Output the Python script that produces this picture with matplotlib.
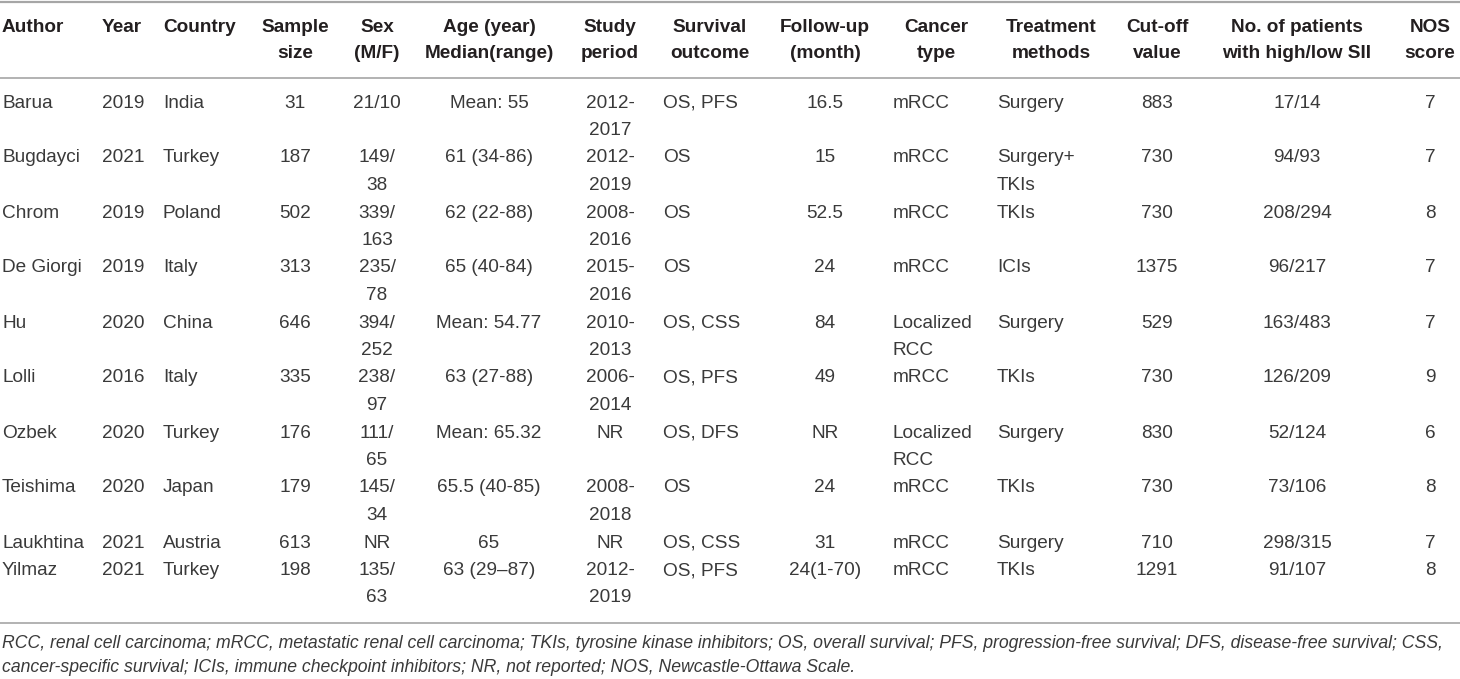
import matplotlib
matplotlib.use("Agg")
import matplotlib.pyplot as plt

# ---------------- data ----------------
headers = ["Author", "Year", "Country", "Sample\nsize", "Sex\n(M/F)",
           "Age (year)\nMedian(range)", "Study\nperiod", "Survival\noutcome",
           "Follow-up\n(month)", "Cancer\ntype", "Treatment\nmethods",
           "Cut-off\nvalue", "No. of patients\nwith high/low SII", "NOS\nscore"]

authors = ["Barua", "Bugdayci", "Chrom", "De Giorgi", "Hu", "Lolli", "Ozbek",
           "Teishima", "Laukhtina", "Yilmaz"]
years = ["2019", "2021", "2019", "2019", "2020", "2016", "2020", "2020", "2021", "2021"]
countries = ["India", "Turkey", "Poland", "Italy", "China", "Italy", "Turkey",
             "Japan", "Austria", "Turkey"]
sample_sizes = ["31", "187", "502", "313", "646", "335", "176", "179", "613", "198"]
sex_mf = ["21/10", "149/\n38", "339/\n163", "235/\n78", "394/\n252", "238/\n97",
          "111/\n65", "145/\n34", "NR", "135/\n63"]
ages = ["Mean: 55", "61 (34-86)", "62 (22-88)", "65 (40-84)", "Mean: 54.77",
        "63 (27-88)", "Mean: 65.32", "65.5 (40-85)", "65", "63 (29\u201387)"]
study_periods = ["2012-\n2017", "2012-\n2019", "2008-\n2016", "2015-\n2016",
                 "2010-\n2013", "2006-\n2014", "NR", "2008-\n2018", "NR", "2012-\n2019"]
outcomes = ["OS, PFS", "OS", "OS", "OS", "OS, CSS", "OS, PFS", "OS, DFS", "OS",
            "OS, CSS", "OS, PFS"]
follow_ups = ["16.5", "15", "52.5", "24", "84", "49", "NR", "24", "31", "24(1-70)"]
cancer_types = ["mRCC", "mRCC", "mRCC", "mRCC", "Localized\nRCC", "mRCC",
                "Localized\nRCC", "mRCC", "mRCC", "mRCC"]
treatments = ["Surgery", "Surgery+\nTKIs", "TKIs", "ICIs", "Surgery", "TKIs",
              "Surgery", "TKIs", "Surgery", "TKIs"]
cutoffs = ["883", "730", "730", "1375", "529", "730", "830", "730", "710", "1291"]
high_low = ["17/14", "94/93", "208/294", "96/217", "163/483", "126/209", "52/124",
            "73/106", "298/315", "91/107"]
nos_scores = ["7", "7", "8", "7", "7", "9", "6", "8", "7", "8"]

footnote = ["RCC, renal cell carcinoma; mRCC, metastatic renal cell carcinoma; TKIs, "
            "tyrosine kinase inhibitors; OS, overall survival; PFS, progression-free "
            "survival; DFS, disease-free survival; CSS,",
            "cancer-specific survival; ICIs, immune checkpoint inhibitors; NR, not "
            "reported; NOS, Newcastle-Ottawa Scale."]

columns = [authors, years, countries, sample_sizes, sex_mf, ages, study_periods,
           outcomes, follow_ups, cancer_types, treatments, cutoffs, high_low, nos_scores]

# ---------------- layout (pixel coordinates) ----------------
W, H = 1460, 679
# (x for header, align for header, x for data, align for data)
col_layout = [
    (2, "left", 2, "left"),
    (102, "left", 102, "left"),
    (163, "left", 163, "left"),
    (295, "center", 295, "center"),
    (377, "center", 377, "center"),
    (489, "center", 489, "center"),
    (610, "center", 610, "center"),
    (710, "center", 663, "left"),
    (825, "center", 825, "center"),
    (936, "center", 893, "left"),
    (1051, "center", 997, "left"),
    (1157, "center", 1157, "center"),
    (1297, "center", 1297, "center"),
    (1430, "center", 1430, "center"),
]

FS = 13.7
FOOT_FS = 12.85
FOOT_RIGHT = 1456
font = "Liberation Sans"
head_color = "#231f20"
body_color = "#3a3a3a"
rule_color = "#a6a6a6"

fig = plt.figure(figsize=(W / 100, H / 100), dpi=100)
ax = fig.add_axes([0, 0, 1, 1])
ax.set_xlim(0, W)
ax.set_ylim(H, 0)
ax.axis("off")

# rules
ax.plot([0, W], [1.5, 1.5], color=rule_color, lw=1.6, solid_capstyle="butt")
ax.plot([0, W], [78, 78], color=rule_color, lw=1.2, solid_capstyle="butt")
ax.plot([0, W], [623, 623], color=rule_color, lw=1.2, solid_capstyle="butt")

# header
head_y0, head_pitch = 27, 26
for (hx, halign, _, _), htxt in zip(col_layout, headers):
    for k, line in enumerate(htxt.split("\n")):
        ax.text(hx, head_y0 + k * head_pitch, line, ha=halign, va="center",
                fontsize=FS, fontweight="bold", family=font, color=head_color)

# body
body_y0, pitch = 103, 27.5
line_index = 0
for r in range(len(authors)):
    cells = [col[r] for col in columns]
    nlines = max(len(c.split("\n")) for c in cells)
    for (_, _, dx, dalign), cell in zip(col_layout, cells):
        for k, line in enumerate(cell.split("\n")):
            ax.text(dx, body_y0 + (line_index + k) * pitch, line, ha=dalign,
                    va="center", fontsize=FS, family=font, color=body_color)
    line_index += nlines

# footnote (first line fitted to the table width)
foot_texts = []
for k, line in enumerate(footnote):
    foot_texts.append(ax.text(2, 643 + k * 25, line, ha="left", va="center",
                              fontsize=FOOT_FS, style="italic", family=font,
                              color=body_color))
renderer = fig.canvas.get_renderer()
width_px = foot_texts[0].get_window_extent(renderer).width
scale = (FOOT_RIGHT - 2) / width_px
for t in foot_texts:
    t.set_fontsize(FOOT_FS * scale)

fig.savefig("out.png", dpi=100)
